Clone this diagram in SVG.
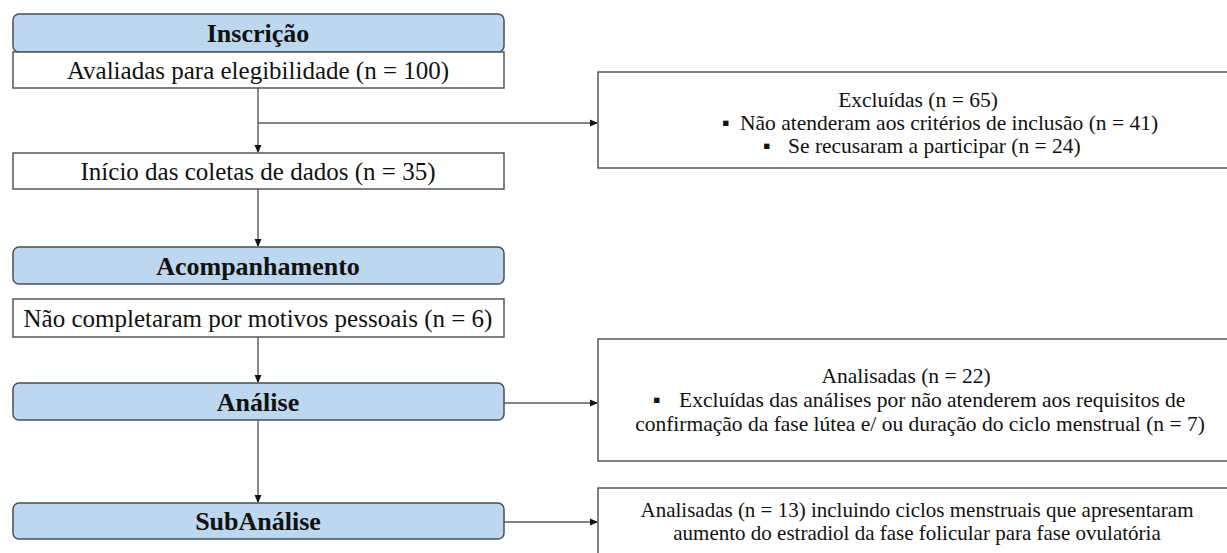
<svg xmlns="http://www.w3.org/2000/svg" width="1227" height="553" viewBox="0 0 1227 553">
<style>
.hdr{fill:#BDD7EE;stroke:#46505a;stroke-width:1.5}
.box{fill:#fff;stroke:#555;stroke-width:1.5}
.ln{stroke:#5a5a5a;stroke-width:1.4;fill:none}
</style>
<defs>
<marker id="ah" markerWidth="8" markerHeight="8" refX="7" refY="4" orient="auto" markerUnits="userSpaceOnUse">
<path d="M0,0.5 L8,4 L0,7.5 Z" fill="#111"/>
</marker>
</defs>
<rect width="1227" height="553" fill="#fff"/>
<g id="connectors">
<path class="ln" d="M258,88 V152" marker-end="url(#ah)"/>
<path class="ln" d="M258,123 H597" marker-end="url(#ah)"/>
<path class="ln" d="M258,189 V246" marker-end="url(#ah)"/>
<path class="ln" d="M258,337 V382" marker-end="url(#ah)"/>
<path class="ln" d="M258,420 V502" marker-end="url(#ah)"/>
<path class="ln" d="M504,403 H597" marker-end="url(#ah)"/>
<path class="ln" d="M504,522 H597" marker-end="url(#ah)"/>
</g>
<g font-family="Liberation Serif, Times New Roman, serif" fill="#111" text-anchor="middle">
<g id="inscricao">
<rect class="hdr" x="13" y="14" width="491" height="38" rx="6"/>
<text x="258" y="42" font-size="26" font-weight="bold">Inscrição</text>
</g>
<g id="avaliadas">
<rect class="box" x="13" y="52" width="491" height="36"/>
<text x="258" y="79" font-size="25">Avaliadas para elegibilidade (n = 100)</text>
</g>
<g id="excluidas">
<rect class="box" x="598" y="72" width="640" height="96"/>
<text x="918" y="107" font-size="21.5">Excluídas (n = 65)</text>
<text x="722" y="130" font-size="21.5" text-anchor="start"><tspan>▪</tspan><tspan x="740">Não atenderam aos critérios de inclusão (n = 41)</tspan></text>
<text x="763" y="153" font-size="21.5" text-anchor="start"><tspan>▪</tspan><tspan x="788">Se recusaram a participar (n = 24)</tspan></text>
</g>
<g id="inicio">
<rect class="box" x="13" y="153" width="491" height="36"/>
<text x="258" y="180" font-size="25">Início das coletas de dados (n = 35)</text>
</g>
<g id="acompanhamento">
<rect class="hdr" x="13" y="247" width="491" height="37" rx="6"/>
<text x="258" y="275" font-size="26" font-weight="bold">Acompanhamento</text>
</g>
<g id="nao-completaram">
<rect class="box" x="13" y="299" width="491" height="38"/>
<text x="258" y="327" font-size="25">Não completaram por motivos pessoais (n = 6)</text>
</g>
<g id="analise">
<rect class="hdr" x="13" y="383" width="491" height="37" rx="6"/>
<text x="258" y="411" font-size="26" font-weight="bold">Análise</text>
</g>
<g id="analisadas22">
<rect class="box" x="598" y="339" width="640" height="122"/>
<text x="906" y="383" font-size="21.5">Analisadas (n = 22)</text>
<text x="653" y="407" font-size="21.5" text-anchor="start"><tspan>▪</tspan><tspan x="679">Excluídas das análises por não atenderem aos requisitos de</tspan></text>
<text x="920" y="431" font-size="21.5">confirmação da fase lútea e/ ou duração do ciclo menstrual (n = 7)</text>
</g>
<g id="subanalise">
<rect class="hdr" x="13" y="503" width="491" height="36" rx="6"/>
<text x="258" y="530" font-size="26" font-weight="bold">SubAnálise</text>
</g>
<g id="analisadas13">
<rect class="box" x="598" y="488" width="640" height="80"/>
<text x="917" y="517" font-size="21">Analisadas (n = 13) incluindo ciclos menstruais que apresentaram</text>
<text x="917" y="540" font-size="21">aumento do estradiol da fase folicular para fase ovulatória</text>
</g>
</g>
</svg>
